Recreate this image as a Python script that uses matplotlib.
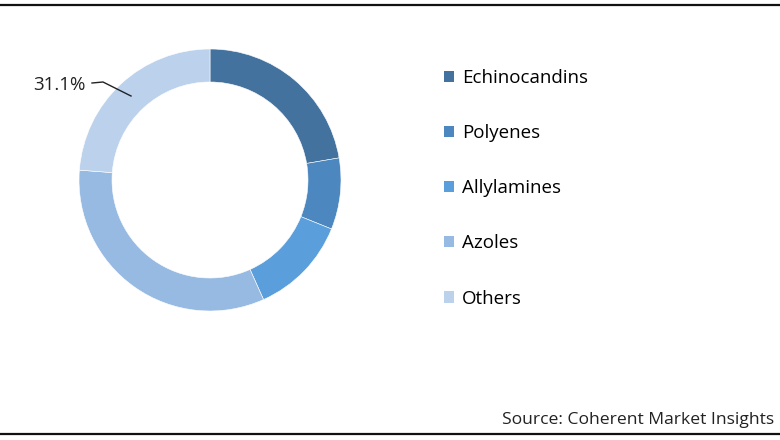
import matplotlib
matplotlib.use('Agg')
import matplotlib.pyplot as plt
from matplotlib.patches import Patch
from matplotlib.lines import Line2D

plt.rcParams['font.family'] = ['Open Sans', 'DejaVu Sans']

categorias = ['Echinocandins', 'Polyenes', 'Allylamines', 'Azoles', 'Others']
cuota = [22.3, 8.8, 12.2, 32.9, 23.8]
colores = ['#44729F', '#4C87C0', '#5A9EDB', '#97BAE2', '#BCD2EC']
etiqueta = '31.1%'
fuente = 'Source: Coherent Market Insights'

fig = plt.figure(figsize=(7.8, 4.4), dpi=100)
ax = fig.add_axes([0, 0, 1, 1])

ax.pie(cuota, colors=colores, startangle=90, counterclock=False,
       center=(210, 260), radius=131, frame=True,
       wedgeprops=dict(width=33, edgecolor='white', linewidth=0.4))
ax.set_xlim(0, 780)
ax.set_ylim(0, 440)
ax.set_aspect('equal')
ax.axis('off')

# etiqueta con linea
ax.plot([92, 103, 131], [357, 358, 344], color='#222222', lw=1)
ax.text(86, 355, etiqueta, ha='right', va='center', fontsize=13.5, color='#222222')

handles = [Patch(facecolor=c, edgecolor='none') for c in colores]
fig.legend(handles, categorias, loc='upper left',
           bbox_to_anchor=(444/780, 1 - 69/440), frameon=False,
           fontsize=13.5, labelspacing=1.98, handlelength=0.55, handleheight=0.55,
           handletextpad=0.4, borderpad=0, borderaxespad=0)

fig.text(502/780, 1 - 420/440, fuente, ha='left', va='center', fontsize=12.6,
         color='#222222')

fig.add_artist(Line2D([0, 1], [1 - 5.5/440, 1 - 5.5/440], color='#111111', lw=1.6,
                      transform=fig.transFigure))
fig.add_artist(Line2D([0, 1], [1 - 434/440, 1 - 434/440], color='#111111', lw=1.6,
                      transform=fig.transFigure))

fig.savefig('out.png', dpi=100)
